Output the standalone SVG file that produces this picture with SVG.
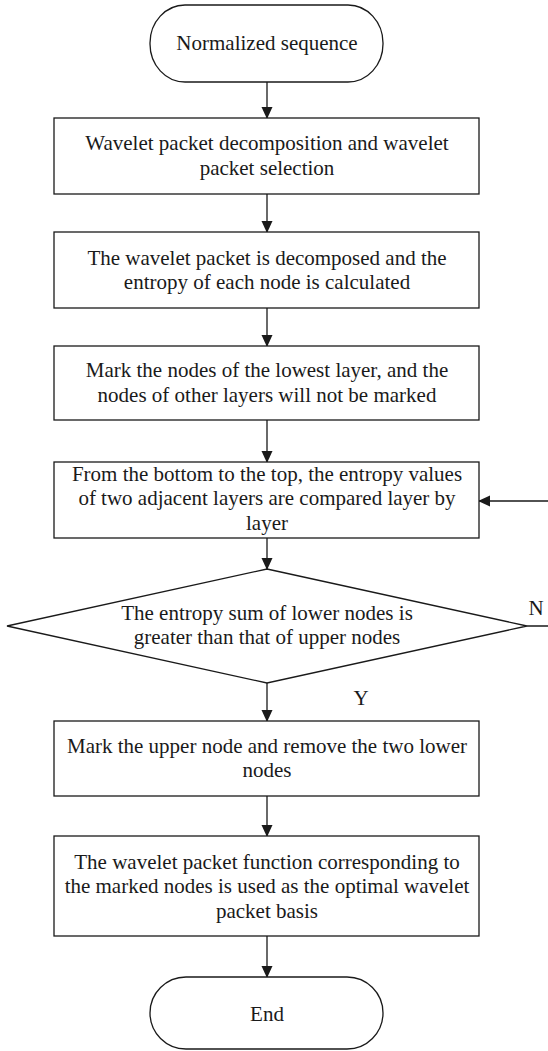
<svg xmlns="http://www.w3.org/2000/svg" width="548" height="1051" viewBox="0 0 548 1051">
<defs>
<marker id="ah" markerWidth="12" markerHeight="14" refX="12" refY="6" orient="auto" markerUnits="userSpaceOnUse" viewBox="0 0 13 12">
<path d="M0,0 L13,6 L0,12 Z" fill="#1a1a1a"/>
</marker>
<style>
.shape{fill:#fff;stroke:#1a1a1a;stroke-width:1.3}
.conn{fill:none;stroke:#1a1a1a;stroke-width:1.3;marker-end:url(#ah)}
text{font-family:"Liberation Serif","Times New Roman",serif;font-size:21px;fill:#1a1a1a;text-anchor:middle}
</style>
</defs>
<rect width="548" height="1051" fill="#fff"/>
<g id="connectors">
<line class="conn" x1="267" y1="82" x2="267" y2="118"/>
<line class="conn" x1="267" y1="194" x2="267" y2="232"/>
<line class="conn" x1="267" y1="308" x2="267" y2="346"/>
<line class="conn" x1="267" y1="420" x2="267" y2="462"/>
<line class="conn" x1="267" y1="538" x2="267" y2="569"/>
<line class="conn" x1="267" y1="683" x2="267" y2="721"/>
<line class="conn" x1="267" y1="796" x2="267" y2="836"/>
<line class="conn" x1="267" y1="936" x2="267" y2="977"/>
<polyline class="conn" points="527,626 553,626 553,501 479,501"/>
<text x="536" y="615">N</text>
<text x="361" y="705">Y</text>
</g>
<g id="start">
<rect class="shape" x="150" y="5" width="233" height="77" rx="35" ry="38"/>
<text x="267" y="50">Normalized sequence</text>
</g>
<g id="box1">
<rect class="shape" x="54" y="118" width="425" height="76"/>
<text x="267" y="150">Wavelet packet decomposition and wavelet</text>
<text x="267" y="175">packet selection</text>
</g>
<g id="box2">
<rect class="shape" x="54" y="232" width="425" height="76"/>
<text x="267" y="265">The wavelet packet is decomposed and the</text>
<text x="267" y="289">entropy of each node is calculated</text>
</g>
<g id="box3">
<rect class="shape" x="54" y="346" width="425" height="74"/>
<text x="267" y="377">Mark the nodes of the lowest layer, and the</text>
<text x="267" y="402">nodes of other layers will not be marked</text>
</g>
<g id="box4">
<rect class="shape" x="54" y="462" width="425" height="76"/>
<text x="267" y="481">From the bottom to the top, the entropy values</text>
<text x="267" y="505">of two adjacent layers are compared layer by</text>
<text x="267" y="530">layer</text>
</g>
<g id="decision">
<polygon class="shape" points="267,569 527,626 267,683 7,626"/>
<text x="267" y="620">The entropy sum of lower nodes is</text>
<text x="267" y="644">greater than that of upper nodes</text>
</g>
<g id="box5">
<rect class="shape" x="54" y="721" width="425" height="75"/>
<text x="267" y="753">Mark the upper node and remove the two lower</text>
<text x="267" y="777">nodes</text>
</g>
<g id="box6">
<rect class="shape" x="54" y="836" width="425" height="100"/>
<text x="267" y="869">The wavelet packet function corresponding to</text>
<text x="267" y="893">the marked nodes is used as the optimal wavelet</text>
<text x="267" y="918">packet basis</text>
</g>
<g id="end">
<rect class="shape" x="150" y="977" width="233" height="72" rx="36" ry="36"/>
<text x="267" y="1021">End</text>
</g>
</svg>
